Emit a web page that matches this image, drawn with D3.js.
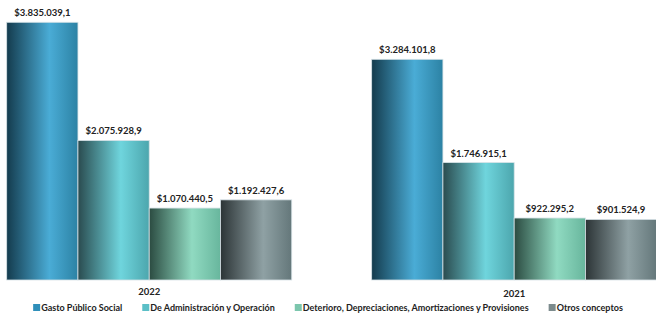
<!DOCTYPE html>
<html>
<head>
<meta charset="utf-8">
<script src="https://cdn.jsdelivr.net/npm/d3@7"></script>
<style>
  body { margin: 0; background: #fff; }
  svg text { font-family: Lato, "Noto Sans", sans-serif; font-weight: bold; fill: #222; }
</style>
</head>
<body>
<svg id="chart" width="656" height="315"></svg>
<script>
// chart data
const years = ['2022', '2021'];
const seriesNames = [
  'Gasto Público Social',
  'De Administración y Operación',
  'Deterioro, Depreciaciones, Amortizaciones y Provisiones',
  'Otros conceptos'
];
const values2022 = [3835039.1, 2075928.9, 1070440.5, 1192427.6];
const values2021 = [3284101.8, 1746915.1, 922295.2, 901524.9];
const valueLabels2022 = ['$3.835.039,1', '$2.075.928,9', '$1.070.440,5', '$1.192.427,6'];
const valueLabels2021 = ['$3.284.101,8', '$1.746.915,1', '$922.295,2', '$901.524,9'];

// gradient stops per series: [left, light, right]
const gradStops = [
  ['#143b4d', '#4aacd6', '#2c82a4'],
  ['#2a4b4f', '#6fd5dd', '#4ca6ad'],
  ['#2b4b41', '#90dac1', '#68b69d'],
  ['#2c3436', '#8fa1a4', '#64777a']
];
const swatchColors = ['#2f8fba', '#5bbfc7', '#7cc6ad', '#7c8b8d'];

const svg = d3.select('#chart');
const baseline = 280;

const x = d3.scaleBand().domain(years).range([6.7, 656.7]).paddingInner(0.219).paddingOuter(0);
const xs = d3.scaleBand().domain(d3.range(seriesNames.length)).range([0, x.bandwidth()]);
const y = d3.scaleLinear().domain([0, 4000000]).range([baseline, baseline - 268.8]);

const defs = svg.append('defs');
gradStops.forEach((s, i) => {
  const g = defs.append('linearGradient').attr('id', 'grad' + i)
    .attr('x1', '0%').attr('x2', '100%').attr('y1', '0%').attr('y2', '0%');
  g.append('stop').attr('offset', '0%').attr('stop-color', s[0]);
  g.append('stop').attr('offset', '60%').attr('stop-color', s[1]);
  g.append('stop').attr('offset', '100%').attr('stop-color', s[2]);
});

const rows = [
  { year: '2022', values: values2022, labels: valueLabels2022 },
  { year: '2021', values: values2021, labels: valueLabels2021 }
];

const groups = svg.selectAll('g.year')
  .data(rows)
  .enter()
  .append('g')
  .attr('class', 'year')
  .attr('transform', d => `translate(${x(d.year)},0)`);

groups.selectAll('rect')
  .data(d => d.values.map((v, i) => ({ v, i })))
  .enter()
  .append('rect')
  .attr('x', d => xs(d.i))
  .attr('y', d => y(d.v))
  .attr('width', xs.bandwidth())
  .attr('height', d => baseline - y(d.v))
  .attr('fill', d => `url(#grad${d.i})`)
  .attr('stroke', '#d6e2e6')
  .attr('stroke-width', 0.8);

groups.selectAll('text.val')
  .data(d => d.values.map((v, i) => ({ v, i, label: d.labels[i] })))
  .enter()
  .append('text')
  .attr('class', 'val')
  .attr('x', d => xs(d.i) + xs.bandwidth() / 2)
  .attr('y', d => y(d.v) - 6)
  .attr('text-anchor', 'middle')
  .attr('font-size', 9.5)
  .text(d => d.label);

// category labels
svg.selectAll('text.cat')
  .data(years)
  .enter()
  .append('text')
  .attr('class', 'cat')
  .attr('x', d => x(d) + x.bandwidth() / 2)
  .attr('y', (d, i) => 295 + i * 1.5)
  .attr('text-anchor', 'middle')
  .attr('font-size', 9.5)
  .text(d => d);

// legend, centred
const legend = svg.append('g').attr('class', 'legend');
let lx = 0;
seriesNames.forEach((name, i) => {
  const item = legend.append('g').attr('transform', `translate(${lx},0)`);
  item.append('rect').attr('x', 0).attr('y', -7).attr('width', 7).attr('height', 7).attr('fill', swatchColors[i]);
  const t = item.append('text').attr('x', 8).attr('y', 0).attr('font-size', 9).text(name);
  lx += 8 + t.node().getComputedTextLength() + 20;
});
const legendWidth = lx - 20;
legend.attr('transform', `translate(${(656 - legendWidth) / 2},311)`);
</script>
</body>
</html>
